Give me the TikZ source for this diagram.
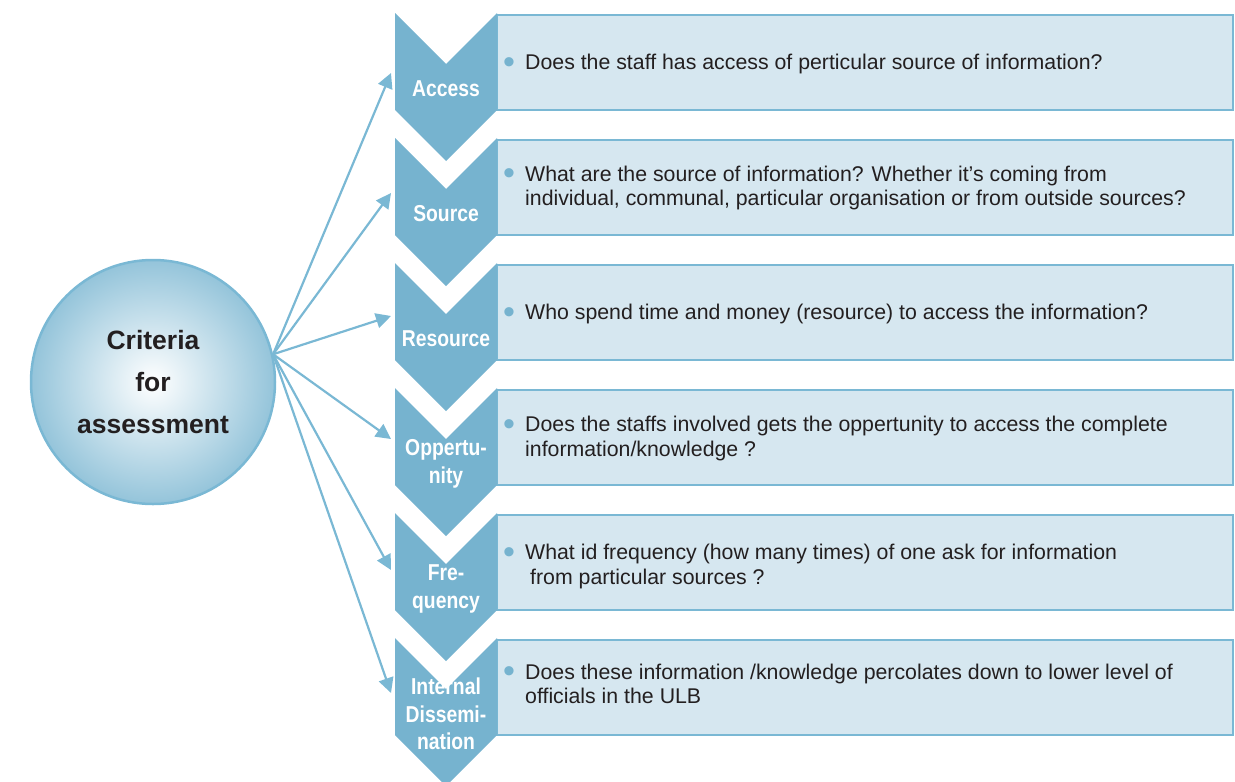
\documentclass[tikz,border=0pt]{standalone}
\usepackage{fontspec}
\setmainfont{Liberation Sans}
\newfontfamily\chevfont[FakeStretch=0.84]{Liberation Sans}
\usetikzlibrary{calc}
\usetikzlibrary{arrows.meta}
\usepackage{xcolor}
\definecolor{chevblue}{HTML}{76B3CF}
\definecolor{boxblue}{HTML}{D6E7F0}
\definecolor{lineblue}{HTML}{7AB8D4}
\definecolor{ringblue}{HTML}{94C4DA}
\definecolor{txtgray}{HTML}{231F20}
\newcommand{\bul}{\makebox[21pt][l]{\hspace{-1pt}\textcolor{chevblue}{\fontsize{34}{24}\selectfont\raisebox{-3.5pt}{\textbullet}}}}
\newcommand{\ind}{\hspace{21pt}}

\begin{document}
\begin{tikzpicture} [x=1pt, y=-1pt,
  chev/.style={fill=chevblue},
  qbox/.style={fill=boxblue, draw=lineblue, line width=2.5pt},
  qtext/.style={anchor=west, align=left, inner sep=0, text=txtgray, font=\fontsize{21.3}{24.5}\selectfont},
  clabel/.style={align=center, inner sep=0, text=white, font=\chevfont\bfseries\fontsize{23}{27.5}\selectfont},
  link/.style={draw=lineblue, line width=2.2pt, -{Triangle[length=15pt,width=15pt]}}]
\useasboundingbox (0,0) rectangle (1235,782);
\node[circle, minimum size=244pt, draw=lineblue, line width=2.5pt, inner color=white, outer color=ringblue,
  align=center, text=txtgray, font=\bfseries\fontsize{26.5}{42}\selectfont] (crit) at (153,382) {Criteria\\for\\assessment};
\foreach \t/\lab/\q/\qy/\ty [count=\n] in {
 13/{Access}/{\bul Does the staff has access of perticular source of information?}/64/73,
 138/{Source}/{\bul What are the source of information? Whether it's coming from\\ \ind individual, communal, particular organisation or from outside sources?}/188/193,
 263/{Resource}/{\bul Who spend time and money (resource) to access the information?}/314/316,
 388/{Oppertu-\\nity}/{\bul Does the staffs involved gets the oppertunity to access the complete\\ \ind information/knowledge ?}/438.5/439,
 513/{Fre-\\quency}/{\bul What id frequency (how many times) of one ask for information\\ \ind\hspace{5pt}from particular sources ?}/566.5/570,
 638/{Internal\\Dissemi-\\nation}/{\bul Does these information /knowledge percolates down to lower level of\\ \ind officials in the ULB}/684/693} {
 \draw[qbox] (497,\t+2) rectangle (1233,\t+97);
 \fill[chev] (395,\t) -- (446,\t+51) -- (497,\t) -- (497,\t+97) -- (446,\t+148) -- (395,\t+97) -- cycle;
 \node[clabel] (c\n) at (446,\t+76) {\lab};
 \node[qtext] (q\n) at (504,\qy) {\q};
 \coordinate (e\n) at (391,\ty);
 \draw[link] (crit.13) -- (e\n);
}
\end{tikzpicture}
\end{document}
